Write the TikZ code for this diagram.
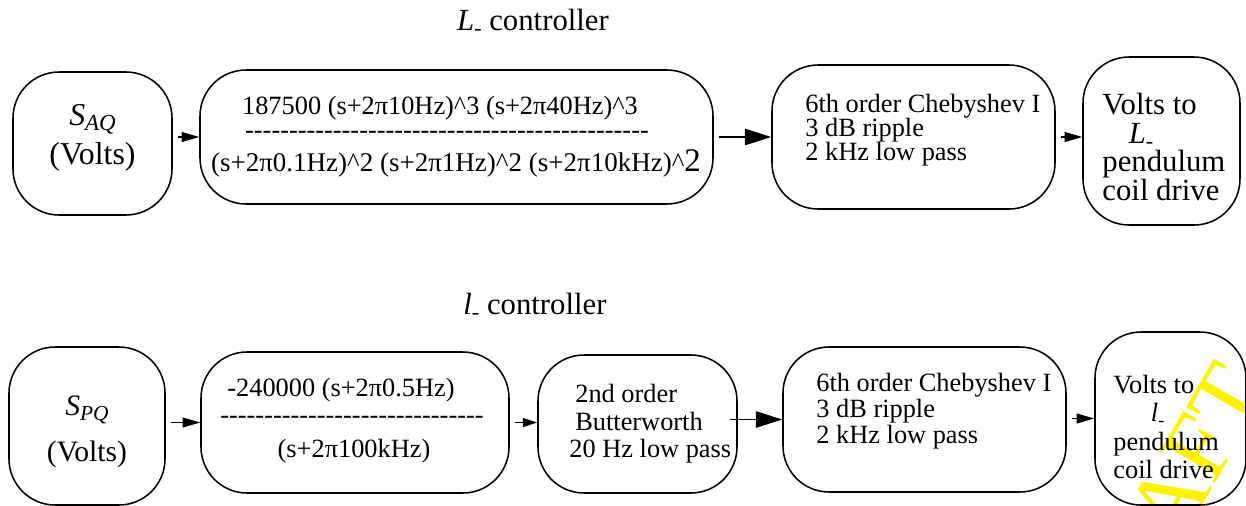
\documentclass[tikz,border=0pt]{standalone}
\usepackage{fontspec}
\setmainfont{Liberation Serif}
\newfontfamily\tms{Liberation Serif}
\usetikzlibrary{arrows.meta}
\newcommand{\px}{0.016cm}
\newcommand{\fs}[2]{\tms\fontsize{#1}{#2}\selectfont}
\newcommand{\dashrow}[1]{\foreach \k in {1,...,#1}{\mbox{-}}}
\newcommand{\lowsub}[1]{\raisebox{-0.35ex}{\scalebox{0.72}{#1}}}

\begin{document}
\begin{tikzpicture}[x=0.016cm, y=-0.016cm,
  blk/.style={draw, line width=0.7pt, rounded corners=21pt, inner sep=0pt},
  txt/.style={inner sep=0pt, font=\fs{12}{11}},
  arr/.style={line width=0.6pt, -{Triangle[length=8pt,width=4.5pt]}, shorten <=2.3pt},
  bigarr/.style={line width=0.6pt, -{Triangle[length=12pt,width=7.5pt]}}]
\useasboundingbox (0,0) rectangle (1246,506);
% watermark
\begin{scope}
\clip (0,0) rectangle (1246,506);
\node[text=yellow, rotate=60, anchor=base west, inner sep=0pt, font=\fs{44}{44}] (draft) at (1111,664) {DRAFT};
\end{scope}
% L- controller
\node[txt, font=\fs{14}{14}] (titleA) at (533,22) {{\itshape L}\lowsub{-} controller};
\node[blk, minimum width=159*\px, minimum height=143*\px] (sAQ) at (92.5,143.5) {};
\node[txt, align=center, font=\fs{14.5}{18}] (sAQtxt) at (92.5,138) {{\itshape S\lowsub{AQ}}\\(Volts)};
\node[blk, minimum width=513*\px, minimum height=134*\px] (tfA) at (456.5,137) {};
\node[txt] (numA) at (440,108) {187500 (s+2π10Hz)\textasciicircum 3 (s+2π40Hz)\textasciicircum 3};
\node[txt] (dashA) at (447,135) {\dashrow{46}};
\node[txt, font=\fs{12.3}{11}] (denA) at (456,163) {(s+2π0.1Hz)\textasciicircum 2 (s+2π1Hz)\textasciicircum 2 (s+2π10kHz)\textasciicircum{\fs{15}{15}2}};
\node[blk, minimum width=283*\px, minimum height=144*\px] (chebA) at (913.5,137) {};
\node[txt, anchor=west, align=left] (chebAtxt) at (805,130) {6th order Chebyshev I\\3 dB ripple\\2 kHz low pass};
\node[blk, minimum width=157*\px, minimum height=168*\px] (coilA) at (1161.5,141) {};
\node[txt, anchor=west, align=left, font=\fs{14}{13}] (coilAtxt) at (1102,147) {Volts to\\\hspace*{12pt}{\itshape L}\lowsub{-}\\pendulum\\coil drive};
\draw[arr] (sAQ.east |- tfA.west) -- (tfA.west);
\draw[bigarr, shorten <=2.3pt] (tfA.east) -- (tfA.east -| chebA.west);
\draw[arr] (chebA.east) -- (chebA.east -| coilA.west);
% l- controller
\node[txt, font=\fs{14}{14}] (titleP) at (535,306) {{\itshape l}\lowsub{-} controller};
\node[blk, minimum width=156*\px, minimum height=158*\px] (sPQ) at (87,426) {};
\node[txt, align=center, font=\fs{13.5}{21}] (sPQtxt) at (87,432) {{\itshape S\lowsub{PQ}}\\(Volts)};
\node[blk, minimum width=308*\px, minimum height=141*\px] (tfP) at (355,422.5) {};
\node[txt] (numP) at (341,390) {-240000 (s+2π0.5Hz)};
\node[txt] (dashP) at (352,420) {\dashrow{30}};
\node[txt] (denP) at (354,451) {(s+2π100kHz)};
\node[blk, minimum width=199*\px, minimum height=138*\px] (bwP) at (637.5,424) {};
\node[txt, anchor=west, align=left, font=\fs{12}{12.5}] (bwPtxt) at (569,424) {\hspace*{2.7pt}2nd order\\\hspace*{2.7pt}Butterworth\\20 Hz low pass};
\node[blk, minimum width=283*\px, minimum height=145*\px] (chebP) at (924.5,419.5) {};
\node[txt, anchor=west, align=left, font=\fs{12}{11.8}] (chebPtxt) at (816,411) {6th order Chebyshev I\\3 dB ripple\\2 kHz low pass};
\node[blk, minimum width=151*\px, minimum height=173*\px] (coilP) at (1170.5,418.5) {};
\node[txt, anchor=west, align=left, font=\fs{12}{12.8}] (coilPtxt) at (1113,427) {Volts to\\\hspace*{17pt}{\itshape l}\lowsub{-}\\pendulum\\coil drive};
\draw[arr] (sPQ.east |- tfP.west) -- (tfP.west);
\draw[arr, -{Triangle[length=6.5pt,width=4pt]}] (tfP.east) -- (tfP.east -| bwP.west);
\draw[bigarr, shorten <=-3.6pt] (bwP.east |- chebP.west) -- (chebP.west);
\draw[arr] (chebP.east |- coilP.west) -- (coilP.west);
\end{tikzpicture}
\end{document}
